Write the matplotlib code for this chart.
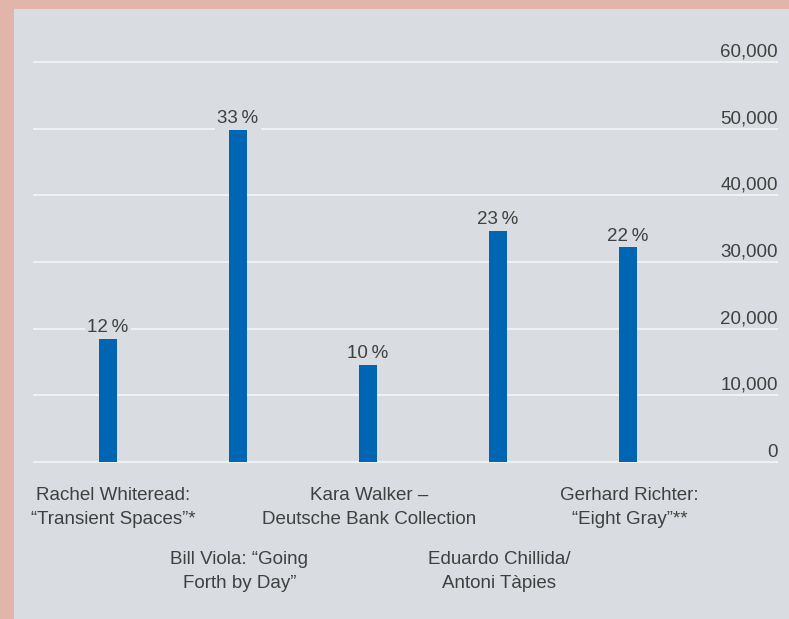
import matplotlib
matplotlib.use("Agg")
import matplotlib.pyplot as plt
from matplotlib.patches import Rectangle
from matplotlib.transforms import blended_transform_factory

# data
labels = ["Rachel Whiteread:\n\u201cTransient Spaces\u201d*",
          "Bill Viola: \u201cGoing\nForth by Day\u201d",
          "Kara Walker \u2013\nDeutsche Bank Collection",
          "Eduardo Chillida/\nAntoni T\u00e0pies",
          "Gerhard Richter:\n\u201cEight Gray\u201d**"]
visitors = [18700, 50000, 14800, 34900, 32400]
shares = ["12\u2009%", "33\u2009%", "10\u2009%", "23\u2009%", "22\u2009%"]
yticks = [0, 10000, 20000, 30000, 40000, 50000, 60000]

pink = "#E2B5AA"
panel = "#D9DCE0"
bar_col = "#0066B3"
txt = "#404040"

plt.rcParams['font.family'] = ['Liberation Sans', 'DejaVu Sans']
fs = 13.5

W, H = 789, 619
fig = plt.figure(figsize=(W/100, H/100), dpi=100, facecolor=pink)
fig.patches.append(Rectangle((14/W, 0), 1, (H-9)/H, transform=fig.transFigure,
                             facecolor=panel, edgecolor='none', zorder=-10))

# axes: y=0 at 462 px, 60000 at 62 px
ppu = 400/60000
ylo, yhi = -1000, 61000
bot = H - (462 + 1000*ppu)
top = H - (62 - 1000*ppu)
ax = fig.add_axes([33/W, bot/H, 745/W, (top-bot)/H])
ax.set_facecolor('none')
ax.set_ylim(ylo, yhi)
ax.set_xlim(-75/130, 4 + 150/130)
for s in ax.spines.values():
    s.set_visible(False)
ax.set_xticks([])
ax.set_yticks([])

for t in yticks:
    ax.axhline(t, color="#F2F4F6", lw=1.3, zorder=1)

tr = blended_transform_factory(ax.transAxes, ax.transData)
for t in yticks:
    ax.annotate(f"{t:,}", (1.0, t), xycoords=tr, xytext=(0, 1),
                textcoords='offset points', ha='right', va='bottom',
                fontsize=fs, color=txt)

x = list(range(len(visitors)))
ax.bar(x, visitors, width=0.146, color=bar_col, zorder=2)

for xi, v, s in zip(x, visitors, shares):
    ax.annotate(s, (xi, v), xytext=(0, 1), textcoords='offset points',
                ha='center', va='bottom', fontsize=fs, color=txt, zorder=3,
                bbox=dict(boxstyle='square,pad=0.15', fc=panel, ec='none'))

trx = blended_transform_factory(ax.transData, ax.transAxes)
for xi, lab in zip(x, labels):
    yoff = -13.5 if xi % 2 == 0 else -59.5
    ax.annotate(lab, (xi, 0), xycoords=trx, xytext=(4 if xi == 0 else 1, yoff),
                textcoords='offset points', ha='center', va='top',
                fontsize=fs, color=txt, linespacing=1.5)

fig.savefig("out.png", dpi=100, facecolor=pink)
